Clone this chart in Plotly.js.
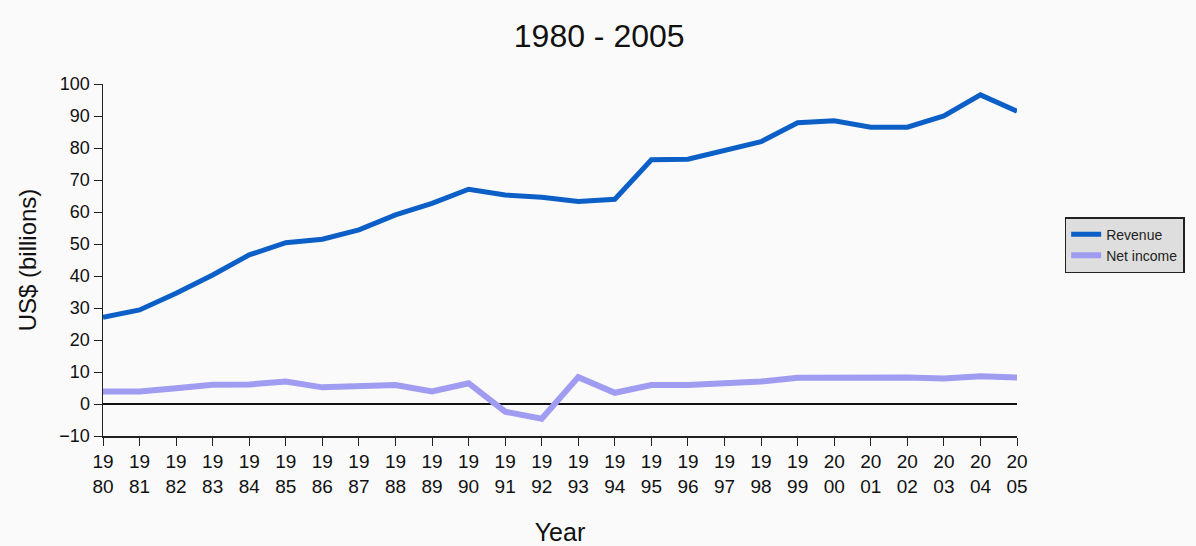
<!DOCTYPE html>
<html>
<head>
<meta charset="utf-8">
<script src="https://cdn.plot.ly/plotly-3.0.1.min.js"></script>
<style>html,body{margin:0;padding:0;background:#fafafa;}#chart{width:1196px;height:546px;}</style>
</head>
<body>
<div id="chart"></div>
<script>
const years = [1980,1981,1982,1983,1984,1985,1986,1987,1988,1989,1990,1991,1992,1993,1994,1995,1996,1997,1998,1999,2000,2001,2002,2003,2004,2005];
const revenue = [27.1,29.4,34.6,40.3,46.6,50.4,51.5,54.4,59.1,62.7,67.1,65.3,64.6,63.3,64,76.3,76.5,79.2,82,87.9,88.5,86.5,86.5,90,96.6,91.5];
const netIncome = [3.9,3.9,4.9,6.0,6.1,7.0,5.2,5.6,5.9,3.9,6.5,-2.4,-4.6,8.4,3.5,5.9,5.9,6.5,7.0,8.2,8.3,8.3,8.3,8.0,8.7,8.3];
const tickLabels = years.map(y => String(y).slice(0,2) + '<br>' + String(y).slice(2));
const yTicks = [-10,0,10,20,30,40,50,60,70,80,90,100];

const font = 'Liberation Sans, Arial, sans-serif';
const data = [
  {x: years, y: revenue, name: 'Revenue', type: 'scatter', mode: 'lines',
   line: {color: '#0b5fc6', width: 5}},
  {x: years, y: netIncome, name: 'Net income', type: 'scatter', mode: 'lines',
   line: {color: '#a09cf2', width: 6}}
];
const layout = {
  width: 1196, height: 546,
  paper_bgcolor: '#fafafa', plot_bgcolor: '#fafafa',
  margin: {l: 103, r: 178, t: 84, b: 110},
  font: {family: font, color: '#111'},
  title: {text: '1980 - 2005', font: {size: 32, color: '#111'}, x: 0.501, xanchor: 'center', y: 0.935, yanchor: 'middle'},
  showlegend: true,
  legend: {x: 1.051, y: 0.622, xanchor: 'left', yanchor: 'top', bgcolor: '#dedede', bordercolor: '#222', borderwidth: 1.5,
           font: {size: 14, color: '#222'}, tracegroupgap: 4},
  xaxis: {range: [1980, 2005], tickmode: 'array', tickvals: years, ticktext: tickLabels,
          showgrid: false, zeroline: false, showline: true, linecolor: '#222', linewidth: 1.5,
          ticks: 'outside', ticklen: 8, tickcolor: '#222', tickfont: {size: 19, color: '#111'},
          title: {text: 'Year', font: {size: 25, color: '#111'}, standoff: 27}},
  yaxis: {range: [-10, 100], tickmode: 'array', tickvals: yTicks,
          showgrid: false, zeroline: true, zerolinecolor: '#111', zerolinewidth: 1.2,
          showline: true, linecolor: '#222', linewidth: 1.5,
          ticks: 'outside', ticklen: 8, tickcolor: '#222', tickfont: {size: 18, color: '#111'},
          title: {text: 'US$ (billions)', font: {size: 24, color: '#111'}, standoff: 16}}
};
Plotly.newPlot('chart', data, layout, {displayModeBar: false, staticPlot: true});
</script>
</body>
</html>
